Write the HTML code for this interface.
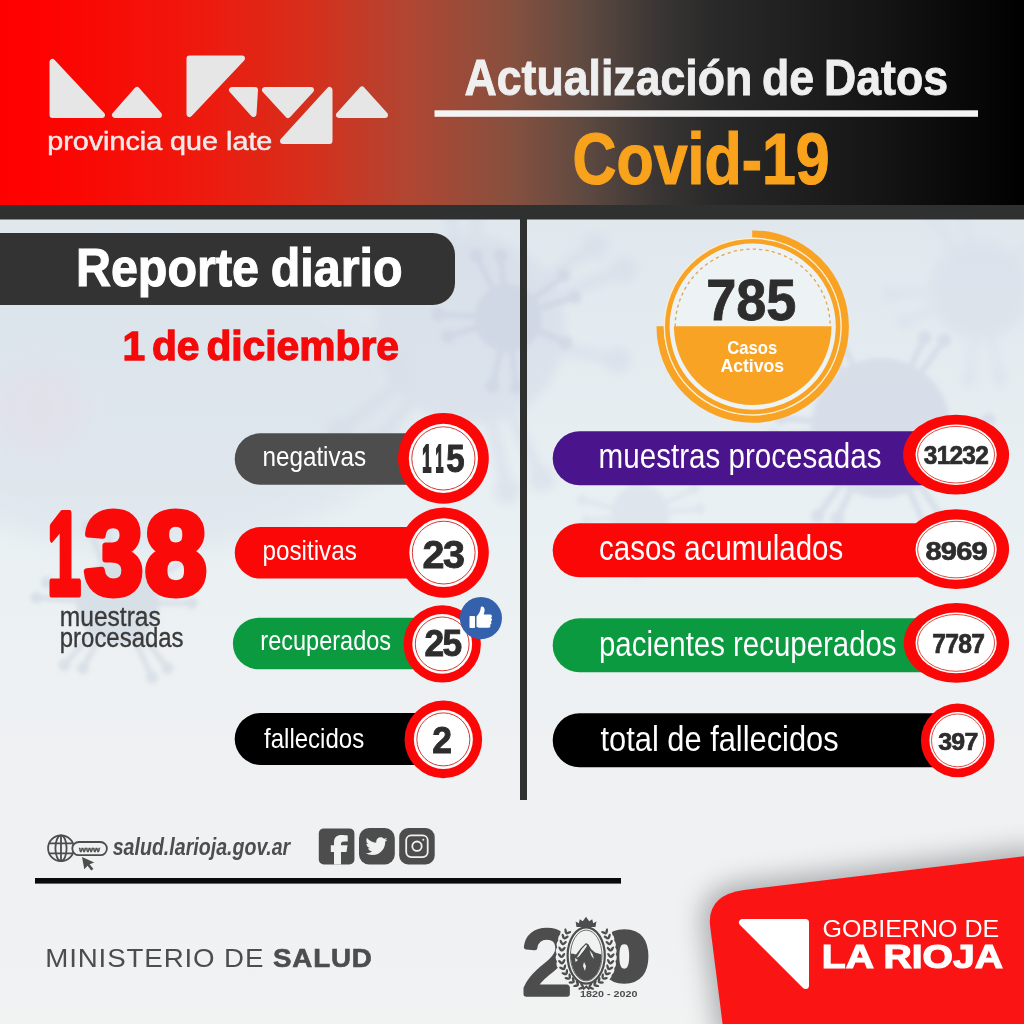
<!DOCTYPE html>
<html lang="es">
<head>
<meta charset="utf-8">
<title>Actualización de Datos Covid-19 - La Rioja</title>
<style>
html,body{margin:0;padding:0;background:#eef1f2;}
body{width:1024px;height:1024px;overflow:hidden;font-family:"Liberation Sans",sans-serif;}
svg{display:block;}
svg text{font-family:"Liberation Sans",sans-serif;}
</style>
</head>
<body>
<svg width="1024" height="1024" viewBox="0 0 1024 1024">
<defs>
<linearGradient id="hdr" x1="0" y1="0" x2="1" y2="0">
<stop offset="0" stop-color="#ff0000"/>
<stop offset="0.05" stop-color="#fd0301"/>
<stop offset="0.2" stop-color="#ee1a0e"/>
<stop offset="0.3" stop-color="#d62f1c"/>
<stop offset="0.4" stop-color="#b04632"/>
<stop offset="0.5" stop-color="#86503f"/>
<stop offset="0.57" stop-color="#5f4a41"/>
<stop offset="0.645" stop-color="#383534"/>
<stop offset="0.7" stop-color="#292929"/>
<stop offset="0.85" stop-color="#161616"/>
<stop offset="1" stop-color="#000000"/>
</linearGradient>
<linearGradient id="bg" x1="0" y1="0" x2="0" y2="1">
<stop offset="0" stop-color="#e0e8ee"/>
<stop offset="0.22" stop-color="#e0e8ee"/>
<stop offset="0.5" stop-color="#e9f0f3"/>
<stop offset="0.76" stop-color="#eff1f2"/>
<stop offset="1" stop-color="#f1f2f2"/>
</linearGradient>
<filter id="blur12" x="-50%" y="-50%" width="200%" height="200%"><feGaussianBlur stdDeviation="12"/></filter>
<filter id="blur6" x="-50%" y="-50%" width="200%" height="200%"><feGaussianBlur stdDeviation="5"/></filter>
<filter id="blur3" x="-50%" y="-50%" width="200%" height="200%"><feGaussianBlur stdDeviation="2.2"/></filter>
<filter id="shadow" x="-30%" y="-30%" width="160%" height="160%"><feGaussianBlur stdDeviation="13"/></filter>
</defs>

<rect x="0" y="0" width="1024" height="1024" fill="url(#bg)"/>
<g id="virus-bg">
<ellipse cx="150" cy="400" rx="260" ry="150" fill="#d9e1ea" opacity="0.55" filter="url(#blur12)"/>
<g filter="url(#blur6)" opacity="0.55" fill="#d3dae7" stroke="#d3dae7" stroke-linecap="round"><circle cx="470" cy="330" r="95" stroke="none"/><line x1="553.8" y1="347.0" x2="618.0" y2="360.0" stroke-width="11.7"/><circle cx="618.0" cy="360.0" r="13.0" stroke="none"/><line x1="507.2" y1="407.0" x2="541.7" y2="478.6" stroke-width="11.7"/><circle cx="541.7" cy="478.6" r="13.0" stroke="none"/><line x1="489.4" y1="413.3" x2="507.4" y2="490.7" stroke-width="11.7"/><circle cx="507.4" cy="490.7" r="13.0" stroke="none"/><line x1="415.4" y1="395.8" x2="373.6" y2="446.2" stroke-width="11.7"/><circle cx="373.6" cy="446.2" r="13.0" stroke="none"/><line x1="402.3" y1="382.2" x2="339.3" y2="430.7" stroke-width="11.7"/><circle cx="339.3" cy="430.7" r="13.0" stroke="none"/><line x1="387.5" y1="307.7" x2="310.7" y2="286.9" stroke-width="11.7"/><circle cx="310.7" cy="286.9" r="13.0" stroke="none"/><line x1="394.4" y1="290.1" x2="336.5" y2="259.5" stroke-width="11.7"/><circle cx="336.5" cy="259.5" r="13.0" stroke="none"/><line x1="456.0" y1="245.6" x2="443.1" y2="167.2" stroke-width="11.7"/><circle cx="443.1" cy="167.2" r="13.0" stroke="none"/><line x1="474.9" y1="244.6" x2="479.4" y2="165.3" stroke-width="11.7"/><circle cx="479.4" cy="165.3" r="13.0" stroke="none"/><line x1="540.9" y1="282.3" x2="595.3" y2="245.7" stroke-width="11.7"/><circle cx="595.3" cy="245.7" r="13.0" stroke="none"/><line x1="549.7" y1="299.0" x2="623.8" y2="270.1" stroke-width="11.7"/><circle cx="623.8" cy="270.1" r="13.0" stroke="none"/></g>
<g filter="url(#blur3)" opacity="0.6" fill="#cfd5e4" stroke="#cfd5e4" stroke-linecap="round"><circle cx="881" cy="428" r="70" stroke="none"/><line x1="943.7" y1="434.3" x2="980.9" y2="438.0" stroke-width="6.3"/><circle cx="980.9" cy="438.0" r="7.0" stroke="none"/><line x1="916.4" y1="480.1" x2="941.7" y2="517.3" stroke-width="6.3"/><circle cx="941.7" cy="517.3" r="7.0" stroke="none"/><line x1="906.9" y1="485.4" x2="925.4" y2="526.5" stroke-width="6.3"/><circle cx="925.4" cy="526.5" r="7.0" stroke="none"/><line x1="853.6" y1="484.7" x2="837.3" y2="518.4" stroke-width="6.3"/><circle cx="837.3" cy="518.4" r="7.0" stroke="none"/><line x1="844.2" y1="479.1" x2="817.9" y2="515.7" stroke-width="6.3"/><circle cx="817.9" cy="515.7" r="7.0" stroke="none"/><line x1="818.2" y1="432.6" x2="773.3" y2="435.9" stroke-width="6.3"/><circle cx="773.3" cy="435.9" r="7.0" stroke="none"/><line x1="818.3" y1="421.7" x2="781.1" y2="418.0" stroke-width="6.3"/><circle cx="781.1" cy="418.0" r="7.0" stroke="none"/><line x1="845.6" y1="375.9" x2="820.3" y2="338.7" stroke-width="6.3"/><circle cx="820.3" cy="338.7" r="7.0" stroke="none"/><line x1="855.1" y1="370.6" x2="836.6" y2="329.5" stroke-width="6.3"/><circle cx="836.6" cy="329.5" r="7.0" stroke="none"/><line x1="908.4" y1="371.3" x2="924.7" y2="337.6" stroke-width="6.3"/><circle cx="924.7" cy="337.6" r="7.0" stroke="none"/><line x1="917.8" y1="376.9" x2="944.1" y2="340.3" stroke-width="6.3"/><circle cx="944.1" cy="340.3" r="7.0" stroke="none"/><line x1="943.8" y1="423.4" x2="988.7" y2="420.1" stroke-width="6.3"/><circle cx="988.7" cy="420.1" r="7.0" stroke="none"/></g>
<g filter="url(#blur3)" opacity="0.6" fill="#cbd3e2" stroke="#cbd3e2" stroke-linecap="round"><circle cx="508" cy="318" r="34" stroke="none"/><line x1="536.2" y1="329.9" x2="565.8" y2="342.5" stroke-width="6.3"/><circle cx="565.8" cy="342.5" r="7.0" stroke="none"/><line x1="511.7" y1="348.4" x2="516.6" y2="387.5" stroke-width="6.3"/><circle cx="516.6" cy="387.5" r="7.0" stroke="none"/><line x1="501.2" y1="347.8" x2="492.4" y2="386.2" stroke-width="6.3"/><circle cx="492.4" cy="386.2" r="7.0" stroke="none"/><line x1="478.7" y1="327.0" x2="448.0" y2="336.4" stroke-width="6.3"/><circle cx="448.0" cy="336.4" r="7.0" stroke="none"/><line x1="477.4" y1="316.4" x2="438.1" y2="314.4" stroke-width="6.3"/><circle cx="438.1" cy="314.4" r="7.0" stroke="none"/><line x1="494.1" y1="290.7" x2="476.2" y2="255.6" stroke-width="6.3"/><circle cx="476.2" cy="255.6" r="7.0" stroke="none"/><line x1="504.2" y1="287.6" x2="500.3" y2="255.7" stroke-width="6.3"/><circle cx="500.3" cy="255.7" r="7.0" stroke="none"/><line x1="532.4" y1="299.6" x2="563.9" y2="275.8" stroke-width="6.3"/><circle cx="563.9" cy="275.8" r="7.0" stroke="none"/><line x1="537.3" y1="309.0" x2="574.9" y2="297.4" stroke-width="6.3"/><circle cx="574.9" cy="297.4" r="7.0" stroke="none"/></g>
<g filter="url(#blur3)" opacity="0.65" fill="#cfd8e2" stroke="#cfd8e2" stroke-linecap="round"><circle cx="118" cy="603" r="42" stroke="none"/><line x1="155.8" y1="603.0" x2="192.0" y2="603.0" stroke-width="5.4"/><circle cx="192.0" cy="603.0" r="6.0" stroke="none"/><line x1="140.9" y1="633.1" x2="167.6" y2="668.3" stroke-width="5.4"/><circle cx="167.6" cy="668.3" r="6.0" stroke="none"/><line x1="133.7" y1="637.4" x2="152.1" y2="677.6" stroke-width="5.4"/><circle cx="152.1" cy="677.6" r="6.0" stroke="none"/><line x1="100.1" y1="636.3" x2="83.0" y2="668.2" stroke-width="5.4"/><circle cx="83.0" cy="668.2" r="6.0" stroke="none"/><line x1="93.2" y1="631.6" x2="64.3" y2="665.0" stroke-width="5.4"/><circle cx="64.3" cy="665.0" r="6.0" stroke="none"/><line x1="80.3" y1="600.6" x2="36.2" y2="597.7" stroke-width="5.4"/><circle cx="36.2" cy="597.7" r="6.0" stroke="none"/><line x1="81.7" y1="592.4" x2="47.0" y2="582.2" stroke-width="5.4"/><circle cx="47.0" cy="582.2" r="6.0" stroke="none"/><line x1="104.5" y1="567.7" x2="88.8" y2="526.4" stroke-width="5.4"/><circle cx="88.8" cy="526.4" r="6.0" stroke="none"/><line x1="112.6" y1="565.6" x2="106.3" y2="521.8" stroke-width="5.4"/><circle cx="106.3" cy="521.8" r="6.0" stroke="none"/><line x1="144.5" y1="576.1" x2="170.0" y2="550.3" stroke-width="5.4"/><circle cx="170.0" cy="550.3" r="6.0" stroke="none"/><line x1="149.8" y1="582.6" x2="187.0" y2="558.7" stroke-width="5.4"/><circle cx="187.0" cy="558.7" r="6.0" stroke="none"/></g>
<g filter="url(#blur3)" opacity="0.5" fill="#d5dce8" stroke="#d5dce8" stroke-linecap="round"><circle cx="640" cy="515" r="30" stroke="none"/><line x1="662.3" y1="530.2" x2="684.6" y2="545.5" stroke-width="4.5"/><circle cx="684.6" cy="545.5" r="5.0" stroke="none"/><line x1="637.9" y1="541.9" x2="635.4" y2="574.8" stroke-width="4.5"/><circle cx="635.4" cy="574.8" r="5.0" stroke="none"/><line x1="628.9" y1="539.6" x2="615.2" y2="569.7" stroke-width="4.5"/><circle cx="615.2" cy="569.7" r="5.0" stroke="none"/><line x1="613.1" y1="517.6" x2="586.3" y2="520.2" stroke-width="4.5"/><circle cx="586.3" cy="520.2" r="5.0" stroke="none"/><line x1="613.8" y1="508.3" x2="581.9" y2="500.1" stroke-width="4.5"/><circle cx="581.9" cy="500.1" r="5.0" stroke="none"/><line x1="632.8" y1="489.0" x2="623.9" y2="457.2" stroke-width="4.5"/><circle cx="623.9" cy="457.2" r="5.0" stroke="none"/><line x1="642.1" y1="488.1" x2="644.1" y2="461.2" stroke-width="4.5"/><circle cx="644.1" cy="461.2" r="5.0" stroke="none"/><line x1="664.4" y1="503.3" x2="694.1" y2="489.1" stroke-width="4.5"/><circle cx="694.1" cy="489.1" r="5.0" stroke="none"/><line x1="666.9" y1="512.4" x2="699.7" y2="509.1" stroke-width="4.5"/><circle cx="699.7" cy="509.1" r="5.0" stroke="none"/></g>
<g filter="url(#blur6)" opacity="0.5" fill="#d6dde9" stroke="#d6dde9" stroke-linecap="round"><circle cx="980" cy="290" r="50" stroke="none"/><line x1="1023.0" y1="303.3" x2="1058.3" y2="314.2" stroke-width="7.2"/><circle cx="1058.3" cy="314.2" r="8.0" stroke="none"/><line x1="989.9" y1="333.9" x2="999.9" y2="377.8" stroke-width="7.2"/><circle cx="999.9" cy="377.8" r="8.0" stroke="none"/><line x1="974.4" y1="334.6" x2="968.7" y2="379.3" stroke-width="7.2"/><circle cx="968.7" cy="379.3" r="8.0" stroke="none"/><line x1="938.5" y1="307.4" x2="904.4" y2="321.7" stroke-width="7.2"/><circle cx="904.4" cy="321.7" r="8.0" stroke="none"/><line x1="935.1" y1="292.2" x2="890.1" y2="294.4" stroke-width="7.2"/><circle cx="890.1" cy="294.4" r="8.0" stroke="none"/><line x1="955.7" y1="252.2" x2="931.3" y2="214.3" stroke-width="7.2"/><circle cx="931.3" cy="214.3" r="8.0" stroke="none"/><line x1="970.0" y1="246.1" x2="961.8" y2="210.0" stroke-width="7.2"/><circle cx="961.8" cy="210.0" r="8.0" stroke="none"/><line x1="1013.0" y1="259.4" x2="1046.1" y2="228.9" stroke-width="7.2"/><circle cx="1046.1" cy="228.9" r="8.0" stroke="none"/><line x1="1021.5" y1="272.6" x2="1063.0" y2="255.1" stroke-width="7.2"/><circle cx="1063.0" cy="255.1" r="8.0" stroke="none"/></g>
<circle cx="40" cy="410" r="45" fill="#e3dfe8" opacity="0.6" filter="url(#blur12)"/>
</g>
<rect x="0" y="0" width="1024" height="206" fill="url(#hdr)"/>
<rect x="0" y="205" width="1024" height="14.5" fill="#2f3030"/>
<rect x="520" y="219" width="7" height="581" fill="#2f3030"/>
<g id="logo" fill="#e6e6e6" stroke="#e6e6e6" stroke-width="6" stroke-linejoin="round">
<path d="M52.5 62 L52.5 115 L102 115 Z"/>
<path d="M115 115 L159 115 L137 90 Z"/>
<path d="M189.500 58.500 L242 58.500 L189.500 114 Z"/>
<path d="M232 90 L255 90 L253.500 114 Z"/>
<path d="M265 90 L311 90 L288 115 Z"/>
<path d="M329.500 90 L329.500 141 L283 141 Z"/>
<path d="M339 115 L385 115 L362 89.500 Z"/>
</g>
<text id="prov" x="47.17" y="150" font-size="25.5" fill="#efe9e9" font-weight="normal" font-style="normal" text-anchor="start" textLength="225.2" lengthAdjust="spacingAndGlyphs" stroke="#efe9e9" stroke-width="0.5">provincia que late</text>
<text id="act" x="464.5" y="95" font-size="50.5" fill="#efefef" font-weight="bold" font-style="normal" text-anchor="start" textLength="483.5" lengthAdjust="spacingAndGlyphs" stroke="#efefef" stroke-width="0.9" word-spacing="-3">Actualización de Datos</text>
<rect x="434.500" y="110.300" width="543.500" height="6.500" fill="#f4f4f4"/>
<text id="covid" x="572.62" y="184" font-size="72.5" fill="#f9a21c" font-weight="bold" font-style="normal" text-anchor="start" textLength="257.07" lengthAdjust="spacingAndGlyphs" stroke="#f9a21c" stroke-width="1.2">Covid-19</text>
<path d="M0 233 H433 A22 22 0 0 1 455 255 V283 A22 22 0 0 1 433 305 H0 Z" fill="#333333"/>
<text id="rep" x="75.92" y="286" font-size="54" fill="#ffffff" font-weight="bold" font-style="normal" text-anchor="start" textLength="326.68" lengthAdjust="spacingAndGlyphs" stroke="#ffffff" stroke-width="1.1" word-spacing="-2">Reporte diario</text>
<text id="fecha" x="122.43" y="360" font-size="41" fill="#f40a0a" font-weight="bold" font-style="normal" text-anchor="start" textLength="276.57" lengthAdjust="spacingAndGlyphs" stroke="#f40a0a" stroke-width="1.3" word-spacing="-4.5">1 de diciembre</text>
<g id="n138"><text id="n138_1" x="47.42" y="593.5" font-size="117" fill="#fb0a0a" font-weight="bold" font-style="normal" text-anchor="start" textLength="33.31" lengthAdjust="spacingAndGlyphs" stroke="#fb0a0a" stroke-width="7" stroke-linejoin="round">1</text><text id="n138_3" x="84.44" y="593.5" font-size="117" fill="#fb0a0a" font-weight="bold" font-style="normal" text-anchor="start" textLength="58.57" lengthAdjust="spacingAndGlyphs" stroke="#fb0a0a" stroke-width="7" stroke-linejoin="round">3</text><text id="n138_8" x="144.88" y="593.5" font-size="117" fill="#fb0a0a" font-weight="bold" font-style="normal" text-anchor="start" textLength="61.5" lengthAdjust="spacingAndGlyphs" stroke="#fb0a0a" stroke-width="7" stroke-linejoin="round">8</text></g>
<text id="mue" x="59.85" y="626.1" font-size="27" fill="#3a3a3a" font-weight="normal" font-style="normal" text-anchor="start" textLength="100.94" lengthAdjust="spacingAndGlyphs" stroke="#3a3a3a" stroke-width="0.35">muestras</text>
<text id="proc" x="59.8" y="647.2" font-size="27" fill="#3a3a3a" font-weight="normal" font-style="normal" text-anchor="start" textLength="123.75" lengthAdjust="spacingAndGlyphs" stroke="#3a3a3a" stroke-width="0.35">procesadas</text>
<path d="M260.45 433.3 H443.4 V484.8 H260.45 A25.75 25.75 0 0 1 260.45 433.3 Z" fill="#4d4d4d"/>
<circle cx="443.4" cy="458.4" r="45.4" fill="#fc0707"/>
<circle cx="443.4" cy="458.4" r="34.6" fill="#ffffff"/>
<circle cx="443.4" cy="458.4" r="31.6" fill="none" stroke="#d8352c" stroke-width="1"/>
<text id="L_negativas" x="262.46" y="465.8" font-size="28" fill="#ffffff" font-weight="normal" font-style="normal" text-anchor="start" textLength="103.78" lengthAdjust="spacingAndGlyphs">negativas</text>
<g id="n115"><text id="N_115_0" x="422.28" y="471.8" font-size="38" fill="#2d2d2d" font-weight="bold" font-style="normal" text-anchor="start" textLength="9.15" lengthAdjust="spacingAndGlyphs" stroke="#2d2d2d" stroke-width="2.2">1</text><text id="N_115_1" x="435.5" y="471.8" font-size="38" fill="#2d2d2d" font-weight="bold" font-style="normal" text-anchor="start" textLength="7.93" lengthAdjust="spacingAndGlyphs" stroke="#2d2d2d" stroke-width="2.2">1</text><text id="N_115_2" x="446.28" y="471.8" font-size="38" fill="#2d2d2d" font-weight="bold" font-style="normal" text-anchor="start" textLength="18.38" lengthAdjust="spacingAndGlyphs" stroke="#2d2d2d" stroke-width="1.0">5</text></g>
<path d="M260.5 527 H443.7 V578.6 H260.5 A25.80000000000001 25.80000000000001 0 0 1 260.5 527 Z" fill="#fc0707"/>
<circle cx="443.7" cy="552.6" r="45.1" fill="#fc0707"/>
<circle cx="443.7" cy="552.6" r="34.4" fill="#ffffff"/>
<circle cx="443.7" cy="552.6" r="31.4" fill="none" stroke="#d8352c" stroke-width="1"/>
<text id="L_positivas" x="262.41" y="560.2" font-size="28" fill="#ffffff" font-weight="normal" font-style="normal" text-anchor="start" textLength="94.5" lengthAdjust="spacingAndGlyphs">positivas</text>
<text id="N_23" x="422.64" y="567.7" font-size="39" fill="#2d2d2d" font-weight="bold" font-style="normal" text-anchor="start" textLength="40.87" lengthAdjust="spacingAndGlyphs" letter-spacing="-1.5" stroke="#2d2d2d" stroke-width="0.9">23</text>
<path d="M258.65 617.8 H442.2 V669.3 H258.65 A25.75 25.75 0 0 1 258.65 617.8 Z" fill="#0c9a40"/>
<circle cx="442.2" cy="643.9" r="38.7" fill="#fc0707"/>
<circle cx="442.2" cy="643.9" r="29.9" fill="#ffffff"/>
<circle cx="442.2" cy="643.9" r="26.9" fill="none" stroke="#d8352c" stroke-width="1"/>
<text id="L_recuperados" x="260.31" y="650.3" font-size="28" fill="#ffffff" font-weight="normal" font-style="normal" text-anchor="start" textLength="130.77" lengthAdjust="spacingAndGlyphs">recuperados</text>
<text id="N_25" x="424.43" y="655.7" font-size="36.5" fill="#2d2d2d" font-weight="bold" font-style="normal" text-anchor="start" textLength="36.35" lengthAdjust="spacingAndGlyphs" letter-spacing="-1.5" stroke="#2d2d2d" stroke-width="0.9">25</text>
<path d="M260.7 712.9 H443.35 V764.9 H260.7 A26.0 26.0 0 0 1 260.7 712.9 Z" fill="#000000"/>
<circle cx="443.35" cy="739.4" r="38.8" fill="#fc0707"/>
<circle cx="443.35" cy="739.4" r="29.5" fill="#ffffff"/>
<circle cx="443.35" cy="739.4" r="26.5" fill="none" stroke="#d8352c" stroke-width="1"/>
<text id="L_fallecidos" x="264.0" y="747.6" font-size="28" fill="#ffffff" font-weight="normal" font-style="normal" text-anchor="start" textLength="100.2" lengthAdjust="spacingAndGlyphs">fallecidos</text>
<text id="N_2" x="432.32" y="753.2" font-size="37" fill="#2d2d2d" font-weight="bold" font-style="normal" text-anchor="start" textLength="18.3" lengthAdjust="spacingAndGlyphs" letter-spacing="-1.5" stroke="#2d2d2d" stroke-width="0.9">2</text>
<circle cx="480.9" cy="618.1" r="21.1" fill="#3461ac"/>
<g fill="#ffffff"><rect x="469.500" y="616" width="5.500" height="12" rx="0.800"/><path d="M476.500 616.500 C479 614 480.500 611 480.800 607.500 C481 605.800 484.500 606 484.600 609.500 C484.700 611.500 484 613.500 483.600 614.600 H490 C492.300 614.600 492.600 617.300 490.900 617.900 C492.600 618.600 492.300 621 490.600 621.400 C492 622.300 491.500 624.500 490 624.700 C491 625.800 490.300 627.800 488.500 627.800 H480 C478.500 627.800 477.500 627.300 476.500 626.800 Z"/></g>
<circle cx="752.7" cy="326.6" r="83.500" fill="#f0f5f6" opacity="0.75"/>
<path d="M752.2 234.00000000000003 A92.600 92.600 0 1 1 660.1 326.3" fill="none" stroke="#f9a325" stroke-width="7.200"/>
<circle cx="752.7" cy="326.6" r="88.300" fill="none" stroke="#fdeec9" stroke-width="1.200"/>
<circle cx="752.7" cy="326.6" r="85.400" fill="none" stroke="#f9a325" stroke-width="4.600"/>
<path d="M673.9000000000001 326.3 A78.800 78.800 0 0 0 831.5 326.3 Z" fill="#f9a325"/>
<path d="M675.2 326.6 A77.500 77.500 0 0 1 830.2 326.6" fill="none" stroke="#e0a44a" stroke-width="1.300" stroke-dasharray="3.200 3.200"/>
<text id="n785" x="706.18" y="319.6" font-size="56.5" fill="#2d2d2d" font-weight="bold" font-style="normal" text-anchor="start" textLength="90.3" lengthAdjust="spacingAndGlyphs" stroke="#2d2d2d" stroke-width="0.8">785</text>
<text id="casos" x="727.23" y="353.6" font-size="18.5" fill="#ffffff" font-weight="bold" font-style="normal" text-anchor="start" textLength="50.01" lengthAdjust="spacingAndGlyphs">Casos</text>
<text id="activos" x="720.4" y="371.9" font-size="18.5" fill="#ffffff" font-weight="bold" font-style="normal" text-anchor="start" textLength="63.74" lengthAdjust="spacingAndGlyphs">Activos</text>
<path d="M579.6500000000001 431.3 H956.1 V485.2 H579.6500000000001 A26.94999999999999 26.94999999999999 0 0 1 579.6500000000001 431.3 Z" fill="#4a148c"/>
<ellipse cx="956.1" cy="454.7" rx="53" ry="39.9" fill="#fc0707"/>
<ellipse cx="956.1" cy="454.7" rx="40.6" ry="30.2" fill="#ffffff"/>
<ellipse cx="956.1" cy="454.7" rx="38.5" ry="28.3" fill="none" stroke="#d8352c" stroke-width="0.9"/>
<text id="R_muestras_procesadas" x="598.58" y="467.8" font-size="34.5" fill="#ffffff" font-weight="normal" font-style="normal" text-anchor="start" textLength="282.92" lengthAdjust="spacingAndGlyphs">muestras procesadas</text>
<text id="N_31232" x="923.8" y="463.8" font-size="26.5" fill="#2d2d2d" font-weight="bold" font-style="normal" text-anchor="start" textLength="64.24" lengthAdjust="spacingAndGlyphs" letter-spacing="-0.8" stroke="#2d2d2d" stroke-width="0.7">31232</text>
<path d="M579.7 523.3 H956.1 V577.3 H579.7 A27.0 27.0 0 0 1 579.7 523.3 Z" fill="#fc0707"/>
<ellipse cx="956.1" cy="549.1" rx="53" ry="39.9" fill="#fc0707"/>
<ellipse cx="956.1" cy="549.6" rx="40.6" ry="30.2" fill="#ffffff"/>
<ellipse cx="956.1" cy="549.6" rx="38.5" ry="28.3" fill="none" stroke="#d8352c" stroke-width="0.9"/>
<text id="R_casos_acumulados" x="599.1" y="559.8" font-size="34.5" fill="#ffffff" font-weight="normal" font-style="normal" text-anchor="start" textLength="244.09" lengthAdjust="spacingAndGlyphs">casos acumulados</text>
<text id="N_8969" x="925.56" y="560.4" font-size="26.5" fill="#2d2d2d" font-weight="bold" font-style="normal" text-anchor="start" textLength="61.18" lengthAdjust="spacingAndGlyphs" letter-spacing="-0.8" stroke="#2d2d2d" stroke-width="0.7">8969</text>
<path d="M579.6500000000001 618.3 H956.4 V672.2 H579.6500000000001 A26.950000000000045 26.950000000000045 0 0 1 579.6500000000001 618.3 Z" fill="#0c9a40"/>
<ellipse cx="956.4" cy="642.9" rx="52.7" ry="39.8" fill="#fc0707"/>
<ellipse cx="956.1" cy="642.9" rx="40.6" ry="30.3" fill="#ffffff"/>
<ellipse cx="956.1" cy="642.9" rx="38.5" ry="28.400000000000002" fill="none" stroke="#d8352c" stroke-width="0.9"/>
<text id="R_pacientes_recuperados" x="598.99" y="655.5" font-size="34.5" fill="#ffffff" font-weight="normal" font-style="normal" text-anchor="start" textLength="297.57" lengthAdjust="spacingAndGlyphs">pacientes recuperados</text>
<text id="N_7787" x="932.2" y="653" font-size="27" fill="#2d2d2d" font-weight="bold" font-style="normal" text-anchor="start" textLength="51.95" lengthAdjust="spacingAndGlyphs" letter-spacing="-0.8" stroke="#2d2d2d" stroke-width="0.7">7787</text>
<path d="M579.6500000000001 713.3 H957.7 V767.2 H579.6500000000001 A26.950000000000045 26.950000000000045 0 0 1 579.6500000000001 713.3 Z" fill="#000000"/>
<ellipse cx="957.7" cy="740.4" rx="36.8" ry="36.8" fill="#fc0707"/>
<ellipse cx="957.7" cy="740.4" rx="28.3" ry="28.3" fill="#ffffff"/>
<ellipse cx="957.7" cy="740.4" rx="26.2" ry="26.400000000000002" fill="none" stroke="#d8352c" stroke-width="0.9"/>
<text id="R_total_de_fallecidos" x="600.5" y="750.7" font-size="34.5" fill="#ffffff" font-weight="normal" font-style="normal" text-anchor="start" textLength="238.12" lengthAdjust="spacingAndGlyphs">total de fallecidos</text>
<text id="N_397" x="938.33" y="750.1" font-size="24.5" fill="#2d2d2d" font-weight="bold" font-style="normal" text-anchor="start" textLength="39.08" lengthAdjust="spacingAndGlyphs" letter-spacing="-0.8" stroke="#2d2d2d" stroke-width="0.7">397</text>
<g id="www" fill="none" stroke="#4d4d4d" stroke-width="1.800">
<circle cx="61" cy="848.300" r="12.900"/>
<ellipse cx="61" cy="848.300" rx="5.600" ry="12.900"/>
<path d="M61 835.400 V861.200 M49.200 843.300 H72.800 M49.200 853.300 H72.800"/>
<rect x="72.300" y="842" width="34.600" height="13.200" rx="6.600" fill="#f0f2f2"/>
</g>
<text id="www" x="79" y="851.6" font-size="8" fill="#4d4d4d" font-weight="bold" font-style="normal" text-anchor="start" textLength="21" lengthAdjust="spacingAndGlyphs" stroke="#4d4d4d" stroke-width="0.4">www</text>
<path d="M82 857 L94.300 862.500 L89.600 864.300 L93.400 869 L91.200 870.600 L87.600 865.800 L84.300 869.300 Z" fill="#4d4d4d"/>
<text id="url" x="112.69" y="854.6" font-size="24" fill="#4d4d4d" font-weight="bold" font-style="italic" text-anchor="start" textLength="177.52" lengthAdjust="spacingAndGlyphs">salud.larioja.gov.ar</text>
<rect x="318.800" y="828.400" width="35.600" height="36" rx="5" fill="#4d4d4d"/>
<rect x="359" y="828" width="35.800" height="36.400" rx="10" fill="#4d4d4d"/>
<rect x="399.200" y="828" width="35.500" height="36.400" rx="9" fill="#4d4d4d"/>
<path d="M334 864.400 V851.900 H330.800 V845.200 H334 V842 C334 837.500 337 835 341.500 835 C343.800 835 346 835.200 347.700 835.500 V841.500 H344.500 C342 841.500 341 842.300 341 844 V845.200 H347.500 L346.500 851.900 H341 V864.400 Z" fill="#f0f1f1"/>
<path d="M387.500 839.500 c-0.800 0.400 -1.700 0.600 -2.600 0.700 c0.900 -0.600 1.600 -1.500 2 -2.500 c-0.900 0.500 -1.900 0.900 -2.900 1.100 c-0.800 -0.900 -2 -1.500 -3.300 -1.500 c-2.500 0 -4.500 2 -4.500 4.500 c0 0.400 0 0.700 0.100 1 c-3.800 -0.200 -7.100 -2 -9.300 -4.700 c-0.400 0.700 -0.600 1.400 -0.600 2.300 c0 1.600 0.800 3 2 3.800 c-0.700 0 -1.400 -0.200 -2 -0.600 v0.100 c0 2.200 1.600 4 3.600 4.400 c-0.400 0.100 -0.800 0.200 -1.200 0.200 c-0.300 0 -0.600 0 -0.800 -0.100 c0.600 1.800 2.200 3.100 4.200 3.100 c-1.500 1.200 -3.500 1.900 -5.600 1.900 c-0.400 0 -0.700 0 -1.100 -0.100 c2 1.300 4.400 2 6.900 2 c8.300 0 12.800 -6.900 12.800 -12.800 v-0.600 c0.900 -0.600 1.700 -1.400 2.300 -2.300 z" fill="#f0f1f1"/>
<rect x="406.200" y="835.300" width="21.500" height="21.800" rx="5" fill="none" stroke="#f0f1f1" stroke-width="1.800"/>
<circle cx="417" cy="846.200" r="4.700" fill="none" stroke="#f0f1f1" stroke-width="1.800"/>
<circle cx="423.300" cy="839.800" r="1" fill="#f0f1f1"/>
<rect x="35" y="878" width="586" height="5.600" fill="#0a0a0a"/>
<text id="minis" x="45.2" y="966.5" font-size="25" fill="#4d4d4d" font-weight="normal" font-style="normal" text-anchor="start" textLength="327.51" lengthAdjust="spacingAndGlyphs" letter-spacing="0.8">MINISTERIO DE <tspan font-weight="bold" stroke="#4d4d4d" stroke-width="0.6">SALUD</tspan></text>
<g id="bicentenario">
<text id="b2" x="521.78" y="993.8" font-size="90" fill="#4d4d4d" font-weight="normal" font-style="normal" text-anchor="start" textLength="49.88" lengthAdjust="spacingAndGlyphs" stroke="#4d4d4d" stroke-width="5.5" stroke-linejoin="round">2</text>
<text id="b0" x="603.62" y="977.5" font-size="62.5" fill="#4d4d4d" font-weight="normal" font-style="normal" text-anchor="start" textLength="41.54" lengthAdjust="spacingAndGlyphs" stroke="#4d4d4d" stroke-width="10.500" stroke-linejoin="round">0</text>
<g fill="#f0f1f1"><circle cx="566.20" cy="933.75" r="6"/><circle cx="564.05" cy="938.95" r="6"/><circle cx="562.56" cy="944.82" r="6"/><circle cx="561.75" cy="951.12" r="6"/><circle cx="561.66" cy="957.59" r="6"/><circle cx="562.35" cy="963.94" r="6"/><circle cx="563.99" cy="969.68" r="6"/><circle cx="566.60" cy="974.57" r="6"/><circle cx="569.96" cy="978.82" r="6"/><circle cx="573.99" cy="982.38" r="6"/><circle cx="578.55" cy="985.21" r="6"/><circle cx="583.56" cy="987.27" r="6"/><circle cx="606.20" cy="933.75" r="6"/><circle cx="608.35" cy="938.95" r="6"/><circle cx="609.84" cy="944.82" r="6"/><circle cx="610.65" cy="951.12" r="6"/><circle cx="610.74" cy="957.59" r="6"/><circle cx="610.05" cy="963.94" r="6"/><circle cx="608.41" cy="969.68" r="6"/><circle cx="605.80" cy="974.57" r="6"/><circle cx="602.44" cy="978.82" r="6"/><circle cx="598.41" cy="982.38" r="6"/><circle cx="593.85" cy="985.21" r="6"/><circle cx="588.84" cy="987.27" r="6"/></g>
<ellipse cx="586.200" cy="955.500" rx="21" ry="30.800" fill="#f0f1f1"/>
<g fill="#4d4d4d"><ellipse cx="565.71" cy="931.20" rx="2.9" ry="1.25" transform="rotate(259.3 565.71 931.20)"/><ellipse cx="568.56" cy="932.67" rx="2.9" ry="1.25" transform="rotate(335.3 568.56 932.67)"/><ellipse cx="563.17" cy="936.50" rx="2.9" ry="1.25" transform="rotate(250.1 563.17 936.50)"/><ellipse cx="566.21" cy="937.50" rx="2.9" ry="1.25" transform="rotate(326.1 566.21 937.50)"/><ellipse cx="561.36" cy="942.51" rx="2.9" ry="1.25" transform="rotate(242.7 561.36 942.51)"/><ellipse cx="564.51" cy="943.11" rx="2.9" ry="1.25" transform="rotate(318.7 564.51 943.11)"/><ellipse cx="560.29" cy="948.97" rx="2.9" ry="1.25" transform="rotate(236.0 560.29 948.97)"/><ellipse cx="563.49" cy="949.19" rx="2.9" ry="1.25" transform="rotate(312.0 563.49 949.19)"/><ellipse cx="559.97" cy="955.61" rx="2.9" ry="1.25" transform="rotate(229.4 559.97 955.61)"/><ellipse cx="563.17" cy="955.47" rx="2.9" ry="1.25" transform="rotate(305.4 563.17 955.47)"/><ellipse cx="560.42" cy="962.20" rx="2.9" ry="1.25" transform="rotate(222.1 560.42 962.20)"/><ellipse cx="563.58" cy="961.65" rx="2.9" ry="1.25" transform="rotate(298.1 563.58 961.65)"/><ellipse cx="561.72" cy="968.41" rx="2.9" ry="1.25" transform="rotate(209.1 561.72 968.41)"/><ellipse cx="564.67" cy="967.17" rx="2.9" ry="1.25" transform="rotate(285.1 564.67 967.17)"/><ellipse cx="564.13" cy="973.74" rx="2.9" ry="1.25" transform="rotate(198.7 564.13 973.74)"/><ellipse cx="566.81" cy="971.98" rx="2.9" ry="1.25" transform="rotate(274.7 566.81 971.98)"/><ellipse cx="567.39" cy="978.43" rx="2.9" ry="1.25" transform="rotate(188.5 567.39 978.43)"/><ellipse cx="569.72" cy="976.23" rx="2.9" ry="1.25" transform="rotate(264.5 569.72 976.23)"/><ellipse cx="571.39" cy="982.44" rx="2.9" ry="1.25" transform="rotate(178.6 571.39 982.44)"/><ellipse cx="573.30" cy="979.87" rx="2.9" ry="1.25" transform="rotate(254.6 573.30 979.87)"/><ellipse cx="576.00" cy="985.71" rx="2.9" ry="1.25" transform="rotate(169.0 576.00 985.71)"/><ellipse cx="577.46" cy="982.85" rx="2.9" ry="1.25" transform="rotate(245.0 577.46 982.85)"/><ellipse cx="581.12" cy="988.17" rx="2.9" ry="1.25" transform="rotate(159.7 581.12 988.17)"/><ellipse cx="582.10" cy="985.12" rx="2.9" ry="1.25" transform="rotate(235.7 582.10 985.12)"/><ellipse cx="606.69" cy="931.20" rx="2.9" ry="1.25" transform="rotate(-79.3 606.69 931.20)"/><ellipse cx="603.84" cy="932.67" rx="2.9" ry="1.25" transform="rotate(-155.3 603.84 932.67)"/><ellipse cx="609.23" cy="936.50" rx="2.9" ry="1.25" transform="rotate(-70.1 609.23 936.50)"/><ellipse cx="606.19" cy="937.50" rx="2.9" ry="1.25" transform="rotate(-146.1 606.19 937.50)"/><ellipse cx="611.04" cy="942.51" rx="2.9" ry="1.25" transform="rotate(-62.7 611.04 942.51)"/><ellipse cx="607.89" cy="943.11" rx="2.9" ry="1.25" transform="rotate(-138.7 607.89 943.11)"/><ellipse cx="612.11" cy="948.97" rx="2.9" ry="1.25" transform="rotate(-56.0 612.11 948.97)"/><ellipse cx="608.91" cy="949.19" rx="2.9" ry="1.25" transform="rotate(-132.0 608.91 949.19)"/><ellipse cx="612.43" cy="955.61" rx="2.9" ry="1.25" transform="rotate(-49.4 612.43 955.61)"/><ellipse cx="609.23" cy="955.47" rx="2.9" ry="1.25" transform="rotate(-125.4 609.23 955.47)"/><ellipse cx="611.98" cy="962.20" rx="2.9" ry="1.25" transform="rotate(-42.1 611.98 962.20)"/><ellipse cx="608.82" cy="961.65" rx="2.9" ry="1.25" transform="rotate(-118.1 608.82 961.65)"/><ellipse cx="610.68" cy="968.41" rx="2.9" ry="1.25" transform="rotate(-29.1 610.68 968.41)"/><ellipse cx="607.73" cy="967.17" rx="2.9" ry="1.25" transform="rotate(-105.1 607.73 967.17)"/><ellipse cx="608.27" cy="973.74" rx="2.9" ry="1.25" transform="rotate(-18.7 608.27 973.74)"/><ellipse cx="605.59" cy="971.98" rx="2.9" ry="1.25" transform="rotate(-94.7 605.59 971.98)"/><ellipse cx="605.01" cy="978.43" rx="2.9" ry="1.25" transform="rotate(-8.5 605.01 978.43)"/><ellipse cx="602.68" cy="976.23" rx="2.9" ry="1.25" transform="rotate(-84.5 602.68 976.23)"/><ellipse cx="601.01" cy="982.44" rx="2.9" ry="1.25" transform="rotate(1.4 601.01 982.44)"/><ellipse cx="599.10" cy="979.87" rx="2.9" ry="1.25" transform="rotate(-74.6 599.10 979.87)"/><ellipse cx="596.40" cy="985.71" rx="2.9" ry="1.25" transform="rotate(11.0 596.40 985.71)"/><ellipse cx="594.94" cy="982.85" rx="2.9" ry="1.25" transform="rotate(-65.0 594.94 982.85)"/><ellipse cx="591.28" cy="988.17" rx="2.9" ry="1.25" transform="rotate(20.3 591.28 988.17)"/><ellipse cx="590.30" cy="985.12" rx="2.9" ry="1.25" transform="rotate(-55.7 590.30 985.12)"/></g>
<ellipse cx="586.200" cy="955.500" rx="18.600" ry="28.200" fill="#f0f1f1" stroke="#4d4d4d" stroke-width="2.200"/>
<ellipse cx="586.200" cy="955.500" rx="15.800" ry="25.400" fill="none" stroke="#4d4d4d" stroke-width="0.800"/>
<clipPath id="ovalclip"><ellipse cx="586.200" cy="955.500" rx="15.400" ry="25"/></clipPath>
<g clip-path="url(#ovalclip)"><path d="M566 955 L572 953.500 L576 954.500 L581 948 L586 943 L588.500 944.500 L591 949 L595 952.500 L600 954 L607 956 V990 H566 Z" fill="#4d4d4d"/><path d="M581.500 949.500 L586 944.500 L587 946 L583.500 951 L579 956.500 L576.500 958 Z M589.500 950 L592.500 954 L594 959 L591.500 956 Z M584 962 L586 966 L585 971 L583 966 Z M575 958 L578 960 L575.500 962 Z" fill="#f0f1f1"/></g>
<path d="M576.500 927 L575.600 921.500 L578.800 923.300 L579.800 919.300 L582.800 921.300 L586 916.800 L589.200 921.300 L592.200 919.300 L593.200 923.300 L596.400 921.500 L595.500 927 Z" fill="#4d4d4d"/>
<path d="M583 989.500 L586.200 986.500 L589.400 989.500" fill="none" stroke="#4d4d4d" stroke-width="1.800"/>
<text id="b1820" x="580.12" y="996.7" font-size="9.3" fill="#4d4d4d" font-weight="bold" font-style="normal" text-anchor="start" textLength="57.33" lengthAdjust="spacingAndGlyphs">1820 - 2020</text>
</g>
<path d="M1040 846 L742 882 Q698 888 702 925 L718 1040 L1040 1040 Z" fill="#7d8083" opacity="0.6" filter="url(#shadow)"/>
<path d="M1024 856.300 L744 890 Q707.500 895 710 925 L722.600 1024 L1024 1024 Z" fill="#fb1414"/>
<path d="M742.500 922.500 L805.500 922.500 L805.500 985.500 Z" fill="#ffffff" stroke="#ffffff" stroke-width="7" stroke-linejoin="round"/>
<text id="gob" x="822.55" y="937" font-size="24" fill="#ffffff" font-weight="normal" font-style="normal" text-anchor="start" textLength="176.64" lengthAdjust="spacingAndGlyphs">GOBIERNO DE</text>
<text id="rioja" x="821.88" y="968.2" font-size="34" fill="#ffffff" font-weight="bold" font-style="normal" text-anchor="start" textLength="181.15" lengthAdjust="spacingAndGlyphs" stroke="#ffffff" stroke-width="1.200">LA RIOJA</text>
</svg>
</body>
</html>
